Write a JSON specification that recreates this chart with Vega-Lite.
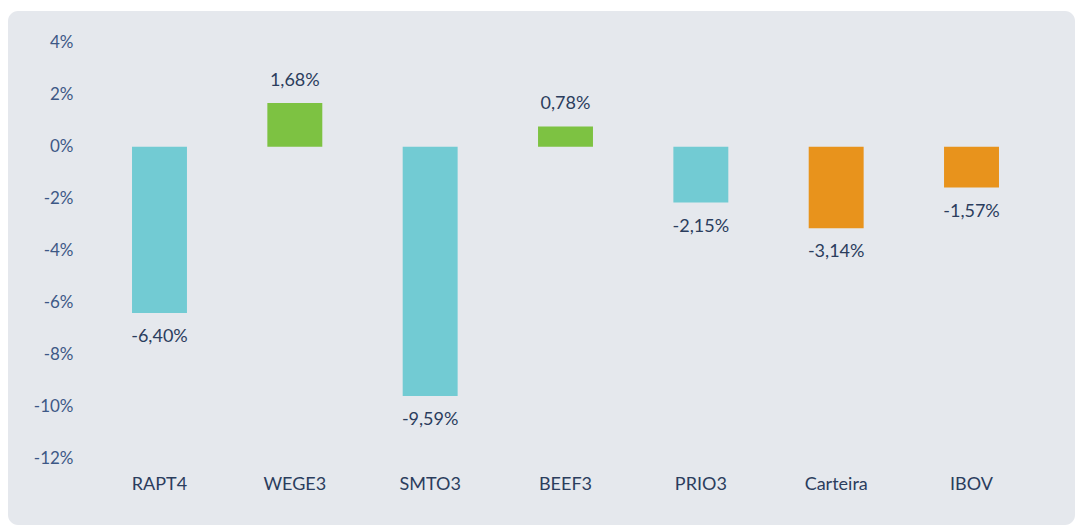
{
  "$schema": "https://vega.github.io/schema/vega-lite/v6.json",
  "width": 1075,
  "height": 526,
  "autosize": {"type": "fit", "contains": "padding"},
  "padding": {"left": 8, "top": 11, "right": 0, "bottom": 1},
  "background": "#ffffff",
  "config": {
    "view": {"fill": "#e5e8ed", "stroke": null, "cornerRadius": 10},
    "font": "Lato",
    "locale": {
      "number": {"decimal": ",", "thousands": ".", "grouping": [3], "currency": ["R$", ""], "minus": "-"}
    }
  },
  "data": {
    "values": [
      {"ativo": "RAPT4", "retorno": -0.064, "tipo": "queda"},
      {"ativo": "WEGE3", "retorno": 0.0168, "tipo": "alta"},
      {"ativo": "SMTO3", "retorno": -0.0959, "tipo": "queda"},
      {"ativo": "BEEF3", "retorno": 0.0078, "tipo": "alta"},
      {"ativo": "PRIO3", "retorno": -0.0215, "tipo": "queda"},
      {"ativo": "Carteira", "retorno": -0.0314, "tipo": "referencia"},
      {"ativo": "IBOV", "retorno": -0.0157, "tipo": "referencia"}
    ]
  },
  "encoding": {
    "x": {
      "field": "ativo",
      "type": "nominal",
      "sort": null,
      "scale": {"paddingInner": 0.594, "paddingOuter": 0.739, "align": 0.62},
      "axis": {
        "title": null,
        "labelAngle": 0,
        "domain": false,
        "ticks": false,
        "tickSize": 0,
        "labelPadding": 0,
        "offset": -41,
        "labelBaseline": "middle",
        "labelFontSize": 18,
        "labelColor": "#2b3d5d",
        "labelFont": "Lato"
      }
    },
    "y": {
      "field": "retorno",
      "type": "quantitative",
      "scale": {"domain": [-0.1455, 0.0522], "nice": false, "zero": false},
      "axis": {
        "title": null,
        "values": [-0.12, -0.1, -0.08, -0.06, -0.04, -0.02, 0, 0.02, 0.04],
        "format": ".0%",
        "grid": false,
        "domain": false,
        "ticks": false,
        "tickSize": 0,
        "labelPadding": 0,
        "offset": -65,
        "labelFontSize": 17,
        "labelColor": "#3d5886",
        "labelFont": "Lato"
      }
    }
  },
  "layer": [
    {
      "mark": {"type": "bar"},
      "encoding": {
        "y2": {"datum": 0},
        "color": {
          "field": "tipo",
          "type": "nominal",
          "scale": {"domain": ["queda", "alta", "referencia"], "range": ["#72cbd3", "#7dc242", "#e8931c"]},
          "legend": null
        }
      }
    },
    {
      "transform": [{"filter": "datum.retorno >= 0"}],
      "mark": {"type": "text", "baseline": "middle", "dy": -22, "fontSize": 18, "color": "#2b3d5d", "font": "Lato"},
      "encoding": {"text": {"field": "retorno", "type": "quantitative", "format": ".2%"}}
    },
    {
      "transform": [{"filter": "datum.retorno < 0"}],
      "mark": {"type": "text", "baseline": "middle", "dy": 24, "fontSize": 18, "color": "#2b3d5d", "font": "Lato"},
      "encoding": {"text": {"field": "retorno", "type": "quantitative", "format": ".2%"}}
    }
  ]
}
